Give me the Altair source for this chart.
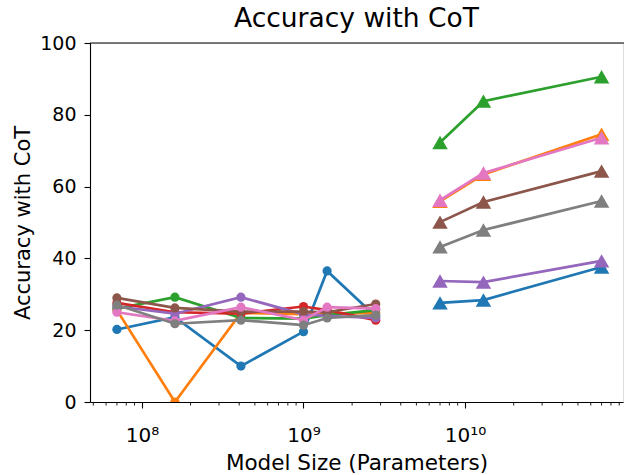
import altair as alt
import pandas as pd

# Model sizes (parameters)
small_sizes = [7.0e7, 1.6e8, 4.1e8, 1.0e9, 1.4e9, 2.8e9]
large_sizes = [7.0e9, 1.3e10, 7.0e10]

# Accuracy with CoT, small models (circles)
blue_small = [20.2, 23.6, 10.0, 19.6, 36.5, 23.8]
orange_small = [25.6, 0.0, 24.8, 24.5, 24.6, 24.8]
green_small = [26.0, 29.2, 23.4, 23.2, 24.2, 25.6]
red_small = [27.6, 25.0, 24.6, 26.6, 25.6, 22.8]
purple_small = [26.6, 24.6, 29.2, 24.4, 24.0, 23.4]
brown_small = [29.0, 26.2, 25.2, 25.2, 25.0, 27.3]
pink_small = [25.0, 22.6, 26.4, 22.8, 26.4, 26.0]
gray_small = [27.0, 21.8, 22.8, 21.4, 23.4, 24.2]

# Accuracy with CoT, large models (triangles)
blue_large = [27.6, 28.4, 37.6]
orange_large = [55.9, 63.4, 74.6]
green_large = [72.3, 83.8, 90.6]
purple_large = [33.7, 33.4, 39.3]
brown_large = [50.1, 55.7, 64.3]
pink_large = [56.2, 63.8, 73.6]
gray_large = [43.2, 47.9, 56.0]

series_colors = {
    "blue": "#1f77b4", "orange": "#ff7f0e", "green": "#2ca02c", "red": "#d62728",
    "purple": "#9467bd", "brown": "#8c564b", "pink": "#e377c2", "gray": "#7f7f7f",
}
series = [
    ("blue", blue_small, blue_large),
    ("orange", orange_small, orange_large),
    ("green", green_small, green_large),
    ("red", red_small, None),
    ("purple", purple_small, purple_large),
    ("brown", brown_small, brown_large),
    ("pink", pink_small, pink_large),
    ("gray", gray_small, gray_large),
]

major_ticks = [1e8, 1e9, 1e10]
minor_mults = [2, 3, 4, 5, 6, 7, 8, 9]
minor_ticks = [5e7, 6e7, 7e7, 8e7, 9e7] + [m * d for d in [1e8, 1e9, 1e10] for m in minor_mults]

W, H = 533, 359
FONT = "DejaVu Sans"

xscale = alt.Scale(type="log", domain=[4.77e7, 9.5e10])
yscale = alt.Scale(domain=[0, 100])

xaxis = alt.Axis(
    values=major_ticks,
    labelExpr="datum.value == 1e8 ? '10⁸' : (datum.value == 1e9 ? '10⁹' : '10¹⁰')",
    title="Model Size (Parameters)",
    grid=False, tickSize=6, tickWidth=1.1, tickColor="black",
    domainColor="black", domainWidth=1.1,
    labelFontSize=20, labelFont=FONT, labelColor="black", labelPadding=17,
    titleFontSize=21.5, titleFont=FONT, titleFontWeight="normal", titleColor="black",
    titlePadding=7,
)
yaxis = alt.Axis(
    values=[0, 20, 40, 60, 80, 100],
    title="Accuracy with CoT",
    grid=False, tickSize=6, tickWidth=1.1, tickColor="black",
    domainColor="black", domainWidth=1.1,
    labelFontSize=19, labelFont=FONT, labelColor="black", labelPadding=8,
    titleFontSize=21, titleFont=FONT, titleFontWeight="normal", titleColor="black",
    titlePadding=6,
)

layers = []
for name, small, large in series:
    col = series_colors[name]
    df_s = pd.DataFrame({"size": small_sizes, "acc": small})
    layers.append(
        alt.Chart(df_s).mark_line(
            color=col, strokeWidth=2.7, clip=True,
            point=alt.OverlayMarkDef(shape="circle", size=85, filled=True, color=col, opacity=1, clip=True),
        ).encode(
            x=alt.X("size:Q", scale=xscale, axis=xaxis),
            y=alt.Y("acc:Q", scale=yscale, axis=yaxis),
        )
    )
    if large is not None:
        df_l = pd.DataFrame({"size": large_sizes, "acc": large})
        layers.append(
            alt.Chart(df_l).mark_line(
                color=col, strokeWidth=2.7, clip=True,
                point=alt.OverlayMarkDef(shape="triangle-up", size=240, filled=True, color=col, opacity=1),
            ).encode(
                x=alt.X("size:Q", scale=xscale, axis=xaxis),
                y=alt.Y("acc:Q", scale=yscale, axis=yaxis),
            )
        )

minor = alt.Chart(pd.DataFrame({"size": minor_ticks})).mark_rule(
    color="black", strokeWidth=0.9
).encode(
    x=alt.X("size:Q", scale=xscale, axis=xaxis),
    y=alt.value(H),
    y2=alt.value(H + 3.5),
)

top_spine = alt.Chart(pd.DataFrame({"k": [0]})).mark_rule(
    color="black", strokeWidth=1.1
).encode(x=alt.value(0), x2=alt.value(W + 5), y=alt.value(0))

chart = alt.layer(minor, top_spine, *layers).properties(
    width=W, height=H,
    title=alt.TitleParams("Accuracy with CoT", fontSize=26.5, font=FONT, fontWeight="normal",
                          color="black", anchor="middle", offset=2),
    padding={"left": 90, "top": 43, "right": 1, "bottom": 73},
    autosize=alt.AutoSizeParams(type="none"),
).configure_view(stroke=None).configure(background="white")

chart.save("out.html", embed_options={"renderer": "svg", "actions": False})
